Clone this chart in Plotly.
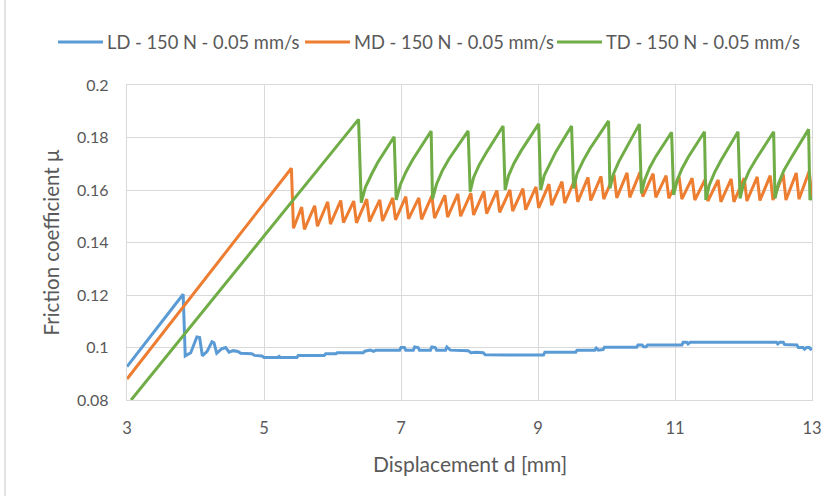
import plotly.graph_objects as go

# ---------------- data ----------------
ld_x = [3.00, 3.82, 3.85, 3.93, 4.02, 4.06, 4.10, 4.17, 4.24, 4.27, 4.31, 4.38, 4.44, 4.49,
        4.55, 4.62, 4.66, 4.82, 4.86, 4.97, 5.00, 5.20, 5.22, 5.24, 5.48, 5.50, 5.88, 5.90,
        6.05, 6.07, 6.45, 6.47, 6.55, 6.60, 6.63, 6.98, 7.00, 7.05, 7.07, 7.18, 7.20, 7.25,
        7.27, 7.43, 7.45, 7.50, 7.52, 7.65, 7.67, 7.72, 7.98, 8.02, 8.10, 8.20, 8.23, 9.08,
        9.10, 9.55, 9.57, 9.83, 9.85, 9.88, 9.95, 9.97, 10.44, 10.46, 10.52, 10.54, 10.58,
        10.60, 11.10, 11.12, 11.17, 11.19, 11.22, 12.48, 12.50, 12.53, 12.58, 12.60, 12.78,
        12.80, 12.87, 12.89, 12.92, 12.96, 12.98, 13.00]
ld_y = [0.0927, 0.1203, 0.0968, 0.0980, 0.1040, 0.1038, 0.0968, 0.0985, 0.1022, 0.1018,
        0.0978, 0.0995, 0.1000, 0.0982, 0.0988, 0.0985, 0.0978, 0.0976, 0.0970, 0.0968,
        0.0962, 0.0962, 0.0966, 0.0962, 0.0962, 0.0970, 0.0970, 0.0976, 0.0976, 0.0980,
        0.0980, 0.0986, 0.0990, 0.0985, 0.0990, 0.0990, 0.1000, 0.1000, 0.0990, 0.0990,
        0.1002, 0.1000, 0.0990, 0.0990, 0.1002, 0.1000, 0.0990, 0.0990, 0.1002, 0.0990,
        0.0988, 0.0980, 0.0982, 0.0980, 0.0972, 0.0971, 0.0982, 0.0982, 0.0990, 0.0990,
        0.0998, 0.0990, 0.0992, 0.1001, 0.1001, 0.1010, 0.1010, 0.1003, 0.1003, 0.1010,
        0.1010, 0.1020, 0.1020, 0.1014, 0.1020, 0.1020, 0.1014, 0.1020, 0.1020, 0.1011,
        0.1010, 0.1000, 0.1000, 0.0994, 0.1000, 0.1000, 0.0994, 0.0998]

md_x = [3.00, 5.40, 5.43,
        5.55, 5.59, 5.74, 5.78, 5.93, 5.97, 6.12, 6.16, 6.31, 6.35, 6.50, 6.54, 6.69, 6.73,
        6.88, 6.92, 7.07, 7.11, 7.26, 7.30, 7.45, 7.49, 7.64, 7.68, 7.83, 7.87, 8.02, 8.06,
        8.21, 8.25, 8.40, 8.44, 8.59, 8.63, 8.78, 8.82, 8.97, 9.01, 9.16, 9.20, 9.35, 9.39,
        9.54, 9.58, 9.73, 9.77, 9.92, 9.96, 10.11, 10.15, 10.30, 10.34, 10.49, 10.53,
        10.68, 10.72, 10.87, 10.91, 11.06, 11.10, 11.25, 11.29, 11.44, 11.48, 11.63, 11.67,
        11.82, 11.86, 12.01, 12.05, 12.20, 12.24, 12.39, 12.43, 12.58, 12.62, 12.77, 12.81,
        12.96, 13.00]
md_y = [0.0880, 0.1683, 0.1454,
        0.1535, 0.1450, 0.1540, 0.1462, 0.1555, 0.1470, 0.1560, 0.1476, 0.1558, 0.1475,
        0.1565, 0.1480, 0.1562, 0.1482, 0.1570, 0.1486, 0.1575, 0.1490, 0.1570, 0.1488,
        0.1578, 0.1493, 0.1580, 0.1497, 0.1585, 0.1500, 0.1588, 0.1505, 0.1595, 0.1510,
        0.1598, 0.1515, 0.1600, 0.1520, 0.1605, 0.1525, 0.1612, 0.1532, 0.1622, 0.1542,
        0.1632, 0.1550, 0.1642, 0.1555, 0.1648, 0.1560, 0.1652, 0.1565, 0.1658, 0.1570,
        0.1665, 0.1572, 0.1668, 0.1575, 0.1662, 0.1572, 0.1655, 0.1568, 0.1650, 0.1565,
        0.1645, 0.1562, 0.1640, 0.1558, 0.1638, 0.1555, 0.1642, 0.1555, 0.1645, 0.1558,
        0.1650, 0.1560, 0.1655, 0.1562, 0.1660, 0.1562, 0.1665, 0.1565, 0.1672, 0.1562]

td_x = [3.06, 6.38,
        6.42, 6.48, 6.57, 6.66, 6.90,
        6.93, 6.99, 7.07, 7.17, 7.44,
        7.46, 7.52, 7.60, 7.70, 7.98,
        8.01, 8.06, 8.14, 8.24, 8.49,
        8.52, 8.57, 8.65, 8.75, 9.01,
        9.04, 9.09, 9.17, 9.26, 9.49,
        9.52, 9.57, 9.66, 9.76, 10.03,
        10.05, 10.10, 10.18, 10.27, 10.48,
        10.51, 10.56, 10.63, 10.72, 10.95,
        10.98, 11.03, 11.10, 11.19, 11.43,
        11.45, 11.50, 11.58, 11.67, 11.92,
        11.95, 12.00, 12.08, 12.18, 12.44,
        12.46, 12.51, 12.59, 12.69, 12.95,
        12.97, 13.00]
td_y = [0.0800, 0.1869,
        0.1552, 0.1610, 0.1660, 0.1705, 0.1803,
        0.1562, 0.1620, 0.1668, 0.1715, 0.1825,
        0.1565, 0.1623, 0.1672, 0.1718, 0.1825,
        0.1594, 0.1648, 0.1695, 0.1740, 0.1844,
        0.1600, 0.1655, 0.1702, 0.1748, 0.1852,
        0.1600, 0.1655, 0.1700, 0.1745, 0.1844,
        0.1606, 0.1662, 0.1712, 0.1758, 0.1863,
        0.1606, 0.1660, 0.1708, 0.1752, 0.1851,
        0.1587, 0.1640, 0.1685, 0.1728, 0.1820,
        0.1581, 0.1635, 0.1680, 0.1724, 0.1822,
        0.1562, 0.1618, 0.1668, 0.1712, 0.1822,
        0.1568, 0.1622, 0.1672, 0.1716, 0.1822,
        0.1568, 0.1624, 0.1675, 0.1720, 0.1831,
        0.1562, 0.1575]

series_names = ["LD - 150 N - 0.05 mm/s", "MD - 150 N - 0.05 mm/s", "TD - 150 N - 0.05 mm/s"]
series_colors = ["#5B9BD5", "#ED7D31", "#70AD47"]

x_ticks = [3, 5, 7, 9, 11, 13]
y_ticks = [0.08, 0.10, 0.12, 0.14, 0.16, 0.18, 0.20]
y_tick_text = ["0.08", "0.1", "0.12", "0.14", "0.16", "0.18", "0.2"]

x_title = "Displacement d [mm]"
y_title = "Friction coefficient μ"

# ---------------- figure ----------------
FONT = "Lato"
TEXT = "#595959"
GRID = "#D9D9D9"
W, H = 837, 496
ML, MR, MT, MB = 127, 25, 85, 96
PW, PH = W - ML - MR, H - MT - MB


def px_x(px):
    return (px - ML) / PW


def px_y(py):
    return (H - MB - py) / PH


fig = go.Figure()
for xs, ys, name, col in zip([ld_x, md_x, td_x], [ld_y, md_y, td_y], series_names, series_colors):
    fig.add_trace(go.Scatter(x=xs, y=ys, mode="lines", name=name,
                             line=dict(color=col, width=3), showlegend=False))

# legend drawn as shapes + text (single row, like the Excel legend)
legend_line_left = [58, 305, 557]
legend_line_len = 45
shapes = []
annotations = []
for name, col, lx in zip(series_names, series_colors, legend_line_left):
    shapes.append(dict(type="line", xref="paper", yref="paper",
                       x0=px_x(lx), x1=px_x(lx + legend_line_len),
                       y0=px_y(42), y1=px_y(42), line=dict(color=col, width=3)))
    annotations.append(dict(text=name, xref="paper", yref="paper",
                            x=px_x(lx + legend_line_len + 2), y=px_y(42),
                            xanchor="left", yanchor="middle", showarrow=False,
                            font=dict(size=18.3, color=TEXT, family=FONT)))

annotations += [
    dict(text=x_title, xref="paper", yref="paper", x=0.5, y=px_y(463),
         xanchor="center", yanchor="middle", showarrow=False,
         font=dict(size=21, color=TEXT, family=FONT)),
    dict(text=y_title, xref="paper", yref="paper", x=px_x(50), y=0.5,
         xanchor="center", yanchor="middle", showarrow=False, textangle=-90,
         font=dict(size=20.5, color=TEXT, family=FONT)),
]
shapes.append(dict(type="line", xref="paper", yref="paper", x0=px_x(5), x1=px_x(5),
                   y0=px_y(H + 5), y1=px_y(-5), line=dict(color=GRID, width=1.5)))

fig.update_layout(
    width=W, height=H,
    margin=dict(l=ML, r=MR, t=MT, b=MB),
    paper_bgcolor="white", plot_bgcolor="white",
    font=dict(family=FONT, color=TEXT, size=15),
    showlegend=False,
    annotations=annotations,
    shapes=shapes,
)
fig.update_xaxes(range=[3, 13], tickvals=x_ticks, ticktext=[str(v) for v in x_ticks],
                 showgrid=True, gridcolor=GRID, gridwidth=1.3,
                 showline=True, linecolor=GRID, linewidth=1.3, mirror=True,
                 zeroline=False, ticks="", ticklabelstandoff=13,
                 tickfont=dict(size=16.5, color=TEXT, family=FONT))
fig.update_yaxes(range=[0.08, 0.2], tickvals=y_ticks, ticktext=y_tick_text,
                 showgrid=True, gridcolor=GRID, gridwidth=1.3,
                 showline=True, linecolor=GRID, linewidth=1.3, mirror=True,
                 zeroline=False, ticks="", ticklabelstandoff=14,
                 tickfont=dict(size=16, color=TEXT, family=FONT))

fig.write_html("out.html")
